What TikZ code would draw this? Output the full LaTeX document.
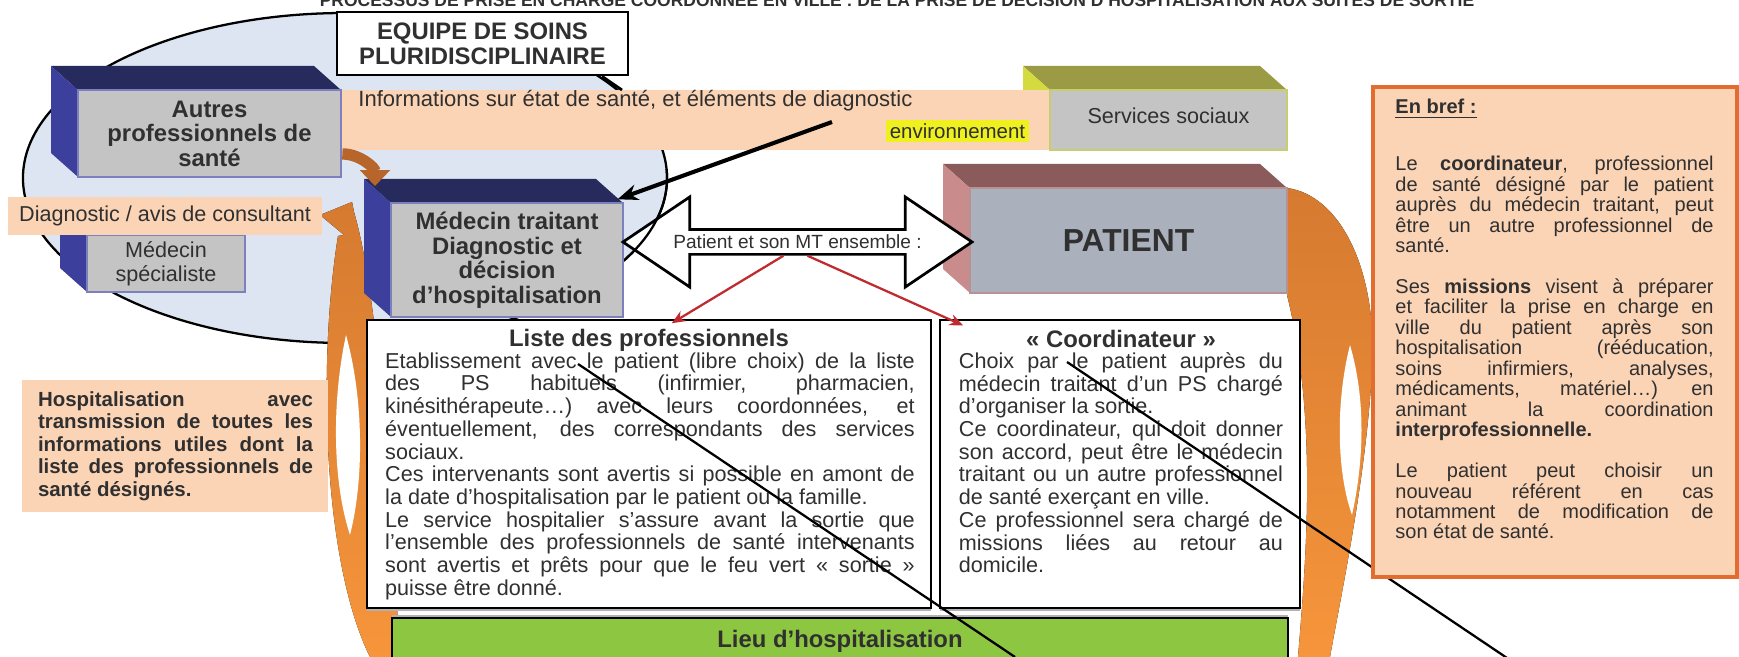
\documentclass[tikz,border=0pt]{standalone}
\usepackage{fontspec}
\setmainfont{Liberation Sans}
\usepackage{xcolor}
\usepackage{tikz}
\usetikzlibrary{arrows.meta,shapes.arrows,shadows,positioning}
\definecolor{marine}{HTML}{262A5C}
\definecolor{bleucote}{HTML}{3C3F9B}
\definecolor{grisface}{HTML}{C4C4C4}
\definecolor{bordbleu}{HTML}{7C80BC}
\definecolor{peche}{HTML}{FBD4B6}
\definecolor{ciel}{HTML}{DCE5F1}
\definecolor{olivefonce}{HTML}{9B9A45}
\definecolor{jaunecote}{HTML}{D3DB3E}
\definecolor{bordvert}{HTML}{C8CE6E}
\definecolor{mauve}{HTML}{8B5B5B}
\definecolor{rosecote}{HTML}{C98B8B}
\definecolor{bordrose}{HTML}{B69292}
\definecolor{grispatient}{HTML}{AAB1BC}
\definecolor{orfonce}{HTML}{D57A30}
\definecolor{orclair}{HTML}{F6953B}
\definecolor{brun}{HTML}{B8652C}
\definecolor{rouge}{HTML}{BF2B2F}
\definecolor{vertlieu}{HTML}{8DC641}
\definecolor{jaune}{HTML}{EEF01F}
\definecolor{texte}{HTML}{303030}
\definecolor{bordorange}{HTML}{E36C2F}
\setlength{\parindent}{0pt}
\tolerance=9999 \hbadness=10000
% bloc en relief : face avant (#1,#2)-(#3,#4), dessus #5, cote #6
\newcommand{\bloc}[6]{\fill[#5] (#1,#2)--(#1-27,#2-24)--(#3-27,#2-24)--(#3,#2)--cycle; \fill[#6] (#1,#2)--(#1-27,#2-24)--(#1-27,#4-24)--(#1,#4)--cycle;}

\begin{document}
\begin{tikzpicture}[x=0.44pt,y=-0.44pt,every node/.style={text=texte},
  face/.style={draw=#1,line width=1.2pt,inner sep=0pt,align=center},
  bande/.style={fill=peche,inner sep=0pt},
  cadre/.style={draw=black,line width=1.2pt,fill=white,drop shadow={shadow xshift=0pt,shadow yshift=-1.5pt,fill=gray!60,opacity=1}},
  corps/.style={align=justify,inner sep=0pt,font=\fontsize{9.5}{10}\selectfont},
  fleche rouge/.style={draw=rouge,line width=1pt,-{Stealth[length=6pt,width=5pt]}}]
\clip (0,0) rectangle (1739,657);
\fill[white] (0,0) rectangle (1739,657);
\node[font=\fontsize{7.7}{8}\selectfont\bfseries,anchor=base,inner sep=0pt] (titre) at (897,6.5) {PROCESSUS DE PRISE EN CHARGE COORDONNEE EN VILLE : DE LA PRISE DE DECISION D’HOSPITALISATION AUX SUITES DE SORTIE};
\draw[fill=ciel,line width=1pt] (345,178) ellipse [x radius=141.7pt,y radius=72.6pt];
% fleches courbes orange
\fill[top color=orfonce,bottom color=orclair] (370,657) .. controls (322,560) and (318,360) .. (338,236) -- (344,235) -- (320,215) -- (352,202) -- (354,212) .. controls (380,300) and (392,520) .. (400,657) -- cycle;
\fill[white] (346,335) .. controls (332,400) and (332,480) .. (350,535) .. controls (364,480) and (364,400) .. (346,335) -- cycle;
\fill[top color=orfonce,bottom color=orclair] (1287,188) .. controls (1340,195) and (1378,270) .. (1372,370) .. controls (1366,480) and (1340,600) .. (1330,657) -- (1298,657) .. controls (1306,560) and (1318,420) .. (1287,295) -- cycle;
\fill[white] (1350,345) .. controls (1336,400) and (1336,470) .. (1352,515) .. controls (1364,460) and (1366,400) .. (1350,345) -- cycle;
% services sociaux et bandeau
\bloc{1050}{90}{1287}{150}{olivefonce}{jaunecote}
\node[bande,minimum width=330pt,minimum height=26.4pt] (bandeau) at (675,120) {};
\node[face=bordvert,fill=grisface,minimum width=104.3pt,minimum height=26.4pt,font=\fontsize{9.5}{11}\selectfont] (services) at (1168.5,120) {\raisebox{3.5pt}{Services sociaux}};
\node[anchor=west,inner sep=0pt,font=\fontsize{9.7}{11}\selectfont] (infos) at (358,101) {Informations sur état de santé, et éléments de diagnostic};
\node[anchor=east,fill=jaune,inner sep=1.5pt,font=\fontsize{9}{10}\selectfont] (environ) at (1029,131) {environnement};
\bloc{78}{90}{341}{177}{marine}{bleucote}
\node[face=bordbleu,fill=grisface,minimum width=115.7pt,minimum height=38.3pt,font=\fontsize{10.5}{10.8}\selectfont\bfseries] (autres) at (209.5,133.5) {Autres\\professionnels de\\santé};
\node[draw,line width=1.2pt,fill=white,minimum width=128pt,minimum height=27.7pt,inner sep=0pt,align=center,font=\fontsize{10.5}{11}\selectfont\bfseries] (equipe) at (482.5,43.5) {EQUIPE DE SOINS\\PLURIDISCIPLINAIRE};
\coordinate (pointe) at (622,90);
\draw[line width=1.2pt] ([xshift=52.6pt]equipe.south) -- (pointe);
\bloc{87}{235}{245}{292}{marine}{bleucote}
\node[face=bordbleu,fill=grisface,minimum width=69.5pt,minimum height=25.1pt,font=\fontsize{9.5}{10.5}\selectfont] (specialiste) at (166,263.5) {Médecin\\spécialiste};
\node[bande,minimum width=138.2pt,minimum height=16.7pt,font=\fontsize{9.5}{11}\selectfont] (diagnostic) at (165,216) {Diagnostic / avis de consultant};
\bloc{391}{203}{623}{317}{marine}{bleucote}
\node[face=bordbleu,fill=grisface,minimum width=102.1pt,minimum height=50.2pt,font=\fontsize{10.5}{10.8}\selectfont\bfseries] (traitant) at (507,260) {Médecin traitant\\Diagnostic et\\décision\\d’hospitalisation};
\bloc{970}{188}{1287}{293}{mauve}{rosecote}
\node[face=bordrose,fill=grispatient,minimum width=139.5pt,minimum height=46.2pt,font=\fontsize{14}{15}\selectfont\bfseries] (patient) at (1128.5,240.5) {PATIENT};
\node[double arrow,draw,fill=white,line width=1.2pt,minimum height=153.6pt,minimum width=39.6pt,double arrow head extend=9.7pt,double arrow tip angle=68,inner sep=0pt,font=\fontsize{8.4}{9}\selectfont] (ensemble) at (797.5,242) {Patient et son MT ensemble :};
\begin{scope}
\clip (625,170) rectangle (700,300);
\draw[line width=1pt] (345,178) ellipse [x radius=141.7pt,y radius=72.6pt];
\end{scope}
% les deux cadres
\node[cadre,minimum width=248.2pt,minimum height=126.7pt] (liste) at (649,464) {};
\node[anchor=base,font=\fontsize{10.5}{12}\selectfont\bfseries] (titreliste) at (649,347) {Liste des professionnels};
\node[corps,text width=233pt,anchor=north] (texteliste) at (650,352) {Etablissement avec le patient (libre choix) de la liste\linebreak des PS habituels (infirmier, pharmacien,\linebreak kinésithérapeute…) avec leurs coordonnées, et\linebreak éventuellement, des correspondants des services\linebreak sociaux.\par Ces intervenants sont avertis si possible en amont de\linebreak la date d’hospitalisation par le patient ou la famille.\par Le service hospitalier s’assure avant la sortie que\linebreak l’ensemble des professionnels de santé intervenants\linebreak sont avertis et prêts pour que le feu vert «~sortie~»\linebreak puisse être donné.};
\node[cadre,minimum width=158.4pt,minimum height=126.7pt] (coord) at (1120,464) {};
\node[anchor=base,font=\fontsize{10.5}{12}\selectfont\bfseries] (titrecoord) at (1121,348) {« Coordinateur »};
\node[corps,text width=142.6pt,anchor=north] (textecoord) at (1121,352) {Choix par le patient auprès du\linebreak médecin traitant d’un PS chargé\linebreak d’organiser la sortie.\par Ce coordinateur, qui doit donner\linebreak son accord, peut être le médecin\linebreak traitant ou un autre professionnel\linebreak de santé exerçant en ville.\par Ce professionnel sera chargé de\linebreak missions liées au retour au\linebreak domicile.};
\node[draw,line width=1.2pt,fill=vertlieu,minimum width=394.2pt,minimum height=20.2pt,font=\fontsize{10.5}{12}\selectfont\bfseries,drop shadow={shadow xshift=0pt,shadow yshift=1.5pt,fill=gray!60,opacity=1}] (lieu) at (840,641) {Lieu d’hospitalisation};
% fleches
\draw[fleche rouge] ([xshift=-6.2pt]ensemble.south) -- ([xshift=10pt,yshift=-2pt]liste.north);
\draw[fleche rouge] ([xshift=4.4pt]ensemble.south) -- ([xshift=-69pt,yshift=-3pt]coord.north);
\coordinate (diag) at (832,122);
\draw[line width=1.8pt,-{Stealth[length=9pt,width=7pt]}] (diag) -- ([xshift=-3pt,yshift=1pt]traitant.north east);
\coordinate (coinmt) at (375,186);
\draw[line width=5pt,draw=brun,-{Triangle[length=7pt,width=13pt]}] ([yshift=-9pt]autres.east) to[out=0,in=90] (coinmt);
\coordinate (d1) at (578,364); \coordinate (f1) at (1015,657);
\coordinate (d2) at (1067,362); \coordinate (f2) at (1510,660);
\draw[line width=1pt] (d1) -- (f1); \draw[line width=1pt] (d2) -- (f2);
% encadres de gauche et de droite
\node[bande,minimum width=134.6pt,minimum height=58.1pt] (hospi) at (175,446) {};
\node[align=justify,text width=121pt,inner sep=0pt,font=\fontsize{9}{9.9}\selectfont\bfseries] (hospitexte) at (175.5,446) {Hospitalisation avec\linebreak transmission de toutes les\linebreak informations utiles dont la\linebreak liste des professionnels de\linebreak santé désignés.};
\node[draw=bordorange,line width=2pt,fill=peche,minimum width=160.2pt,minimum height=215.6pt] (enbref) at (1555,332) {};
\node[text width=140pt,align=justify,inner sep=0pt,anchor=north west,font=\fontsize{8.8}{9}\selectfont] (enbreftexte) at (1395,99) {\underline{\textbf{En bref :}}\par\vspace{16pt}Le \textbf{coordinateur}, professionnel\linebreak de santé désigné par le patient\linebreak auprès du médecin traitant, peut\linebreak être un autre professionnel de\linebreak santé.\par\vspace{9pt}Ses \textbf{missions} visent à préparer\linebreak et faciliter la prise en charge en\linebreak ville du patient après son\linebreak hospitalisation (rééducation,\linebreak soins infirmiers, analyses,\linebreak médicaments, matériel…) en\linebreak animant la coordination\linebreak \textbf{interprofessionnelle.}\par\vspace{9pt}Le patient peut choisir un\linebreak nouveau référent en cas\linebreak notamment de modification de\linebreak son état de santé.};
\end{tikzpicture}
\end{document}
